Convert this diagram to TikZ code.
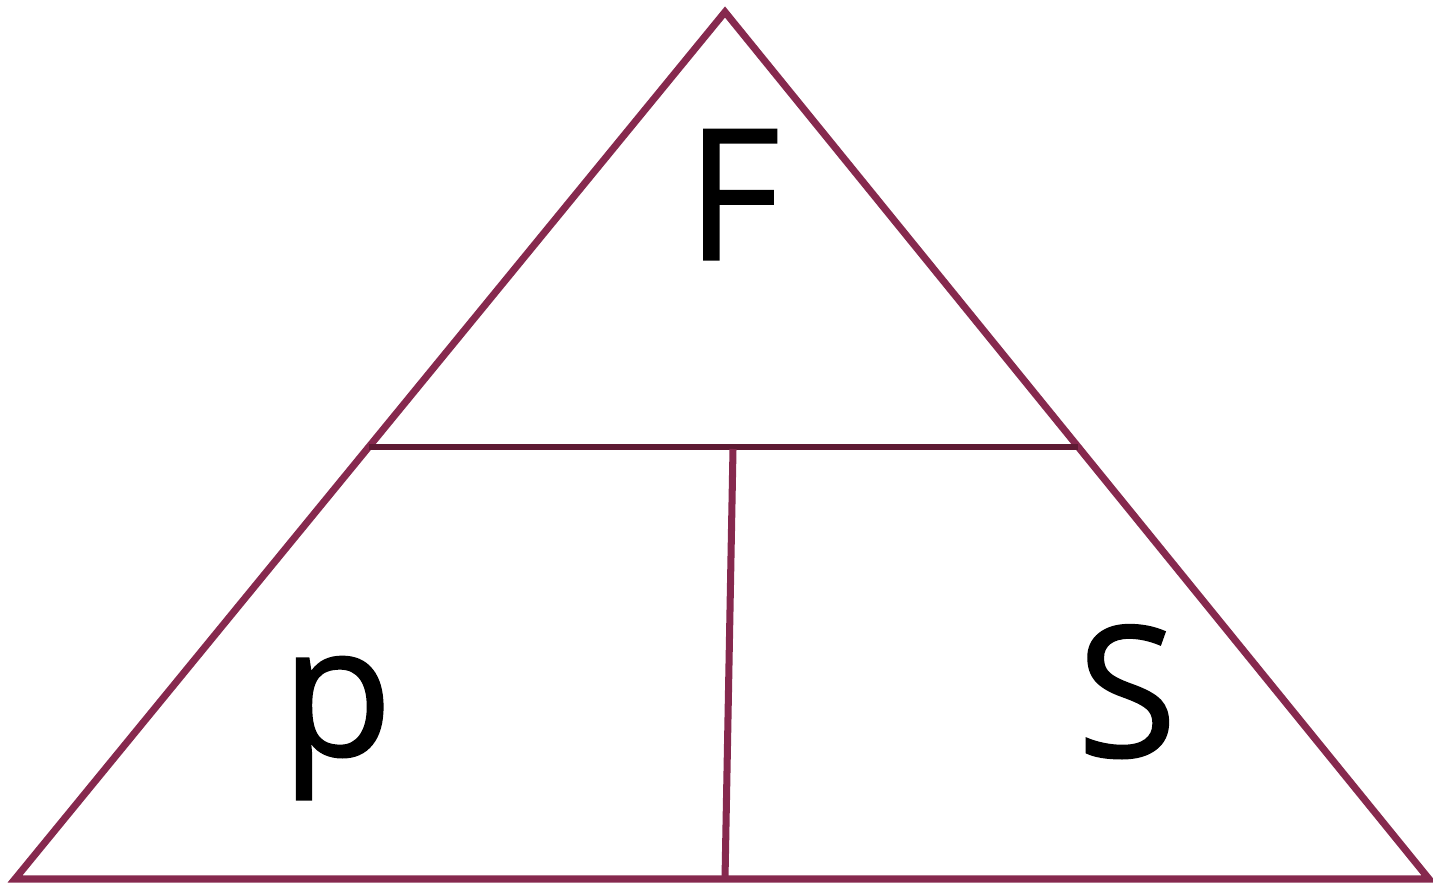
\documentclass[tikz,border=0pt]{standalone}
\usepackage{fontspec}
\setmainfont{Open Sans}
\usetikzlibrary{calc}
\definecolor{trianglecolor}{RGB}{134,41,78}
\definecolor{bandcolor}{RGB}{94,26,51}
\tikzset{
  edge/.style   = {draw=trianglecolor, line width=2pt, line join=miter},
  band/.style   = {draw=bandcolor, line width=1.75pt},
  letter/.style = {font=\fontsize{52}{58}\selectfont\addfontfeature{FakeBold=0.8},
                   anchor=base, inner sep=0pt},
}
\begin{document}
\begin{tikzpicture}[x=0.01cm, y=-0.01cm]
  \useasboundingbox (0,0) rectangle (1433,883);
  % corners of the triangle
  \coordinate (apex)  at (725,12);
  \coordinate (left)  at (15,879);
  \coordinate (right) at (1429,879);
  \coordinate (bandL) at ($(apex)!0.5017!(left)$);
  \coordinate (bandR) at ($(apex)!0.5017!(right)$);
  \coordinate (splitT) at (733,449);
  \coordinate (splitB) at (725,879);
  % outline
  \draw[edge] (apex) -- (left) -- (right) -- cycle;
  \draw[band] (bandL) -- (bandR);
  \draw[edge] (splitT) -- (splitB);
  % letters
  \node[letter] (force)    at (733,260) {F};
  \node[letter] (pressure) at (337,756) {p};
  \node[letter] (area)     at (1127,757) {S};
\end{tikzpicture}
\end{document}
